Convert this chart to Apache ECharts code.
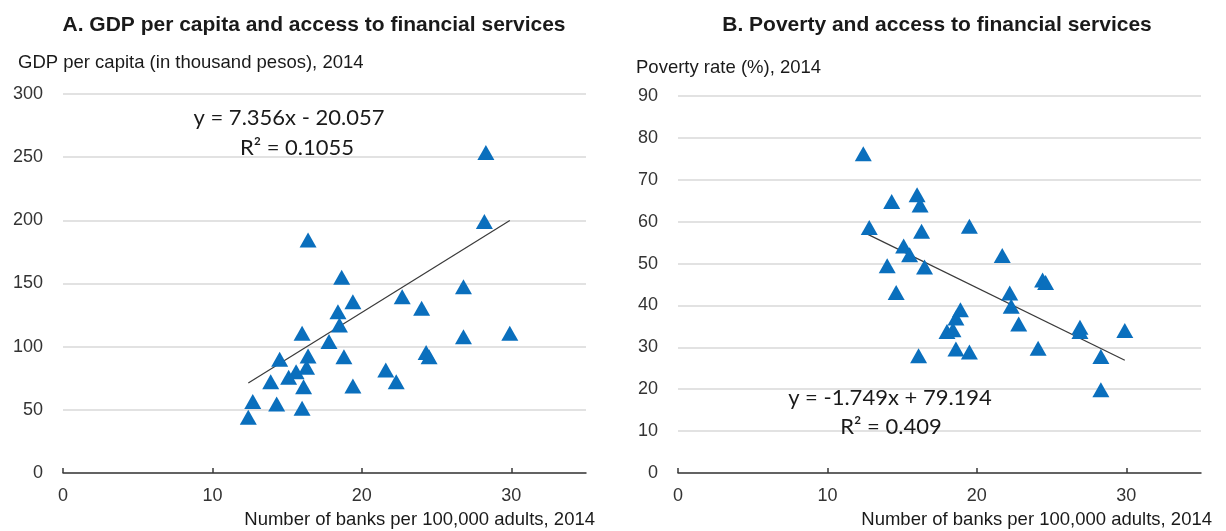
<!DOCTYPE html>
<html>
<head>
<meta charset="utf-8">
<script src="https://cdn.jsdelivr.net/npm/echarts@6/dist/echarts.min.js"></script>
<style>
html,body{margin:0;padding:0;background:#fff;}
#c{width:1226px;height:531px;}
</style>
</head>
<body>
<div id="c"></div>
<script>
// ---- Data ----
const titleA = "A. GDP per capita and access to financial services";
const titleB = "B. Poverty and access to financial services";
const yNameA = "GDP per capita (in thousand pesos), 2014";
const yNameB = "Poverty rate (%), 2014";
const xName = "Number of banks per 100,000 adults, 2014";
const xTicks = [0, 10, 20, 30];

// Panel A: banks per 100,000 adults vs GDP per capita
const banksA = [28.3, 28.2, 16.4, 18.65, 26.8, 19.4, 22.7, 24.0, 18.4, 18.5, 16.0, 17.8, 26.8, 29.9, 14.5, 16.4,
                18.8, 24.3, 24.5, 16.3, 15.6, 15.1, 13.9, 16.1, 21.6, 22.3, 19.4, 12.7, 14.3, 16.0, 12.4];
const gdpA = [253.6, 199.0, 184.5, 154.9, 147.5, 135.6, 139.6, 130.4, 127.7, 117.2, 110.6, 104.0, 107.9, 110.6, 90.0, 92.6,
              92.1, 95.3, 92.1, 83.7, 80.2, 75.8, 72.3, 68.3, 81.6, 72.3, 68.9, 56.5, 54.6, 51.2, 44.1];
const trendA = [7.356, -20.057];      // slope, intercept
const trendRangeA = [12.4, 29.9];
const eqA = ["y = 7.356x - 20.057", "R² = 0.1055"];

// Panel B: banks per 100,000 adults vs poverty rate
const banksB = [12.4, 14.3, 16.0, 16.2, 12.8, 16.3, 19.5, 15.1, 15.5, 16.5, 14.0, 21.7, 14.6, 24.4, 24.6, 22.2,
                22.3, 18.9, 18.6, 18.0, 18.4, 22.8, 26.9, 26.9, 29.9, 18.6, 19.5, 24.1, 16.1, 28.3, 28.3];
const povB = [76.2, 64.8, 66.4, 64.0, 58.6, 57.7, 58.9, 54.2, 52.1, 49.2, 49.5, 51.9, 43.1, 46.1, 45.5, 43.0,
              39.8, 39.0, 37.0, 33.8, 34.2, 35.6, 34.8, 33.8, 34.0, 29.6, 28.9, 29.8, 28.0, 27.8, 19.9];
const trendB = [-1.749, 79.194];
const trendRangeB = [12.4, 29.9];
const eqB = ["y = -1.749x + 79.194", "R² = 0.409"];

// ---- Build ----
const NARROW = "'Liberation Sans Narrow','Arial Narrow','Liberation Sans',Arial,sans-serif";
const EQFONT = "Lato,'Open Sans',sans-serif";
const BLUE = "#0a6fbd";

function pts(xs, ys){ return xs.map((x,i)=>[x, ys[i]]); }
function trend(coef, range){ return range.map(x=>[x, coef[0]*x + coef[1]]); }

function xAxis(gi){
  return {
    gridIndex: gi, type:'value', min:0, max:35, interval:10,
    axisLine:{show:true, onZero:false, lineStyle:{color:'#3a3a3a', width:1.5}},
    axisTick:{show:true, inside:true, length:5, customValues:xTicks, lineStyle:{color:'#3a3a3a', width:1.5}},
    axisLabel:{customValues:xTicks, color:'#333', fontFamily:NARROW, fontSize:18, margin:14},
    splitLine:{show:false}
  };
}
function yAxis(gi, max, interval){
  return {
    gridIndex: gi, type:'value', min:0, max:max, interval:interval,
    axisLine:{show:false}, axisTick:{show:false},
    axisLabel:{color:'#333', fontFamily:NARROW, fontSize:18, margin:20},
    splitLine:{show:true, lineStyle:{color:'#d9d9d9', width:1.5}}
  };
}
function scatter(xi, data){
  return {type:'scatter', xAxisIndex:xi, yAxisIndex:xi, data:data, symbol:'triangle', symbolSize:[17,15],
          itemStyle:{color:BLUE, opacity:1}, z:3};
}
function line(xi, data){
  return {type:'line', xAxisIndex:xi, yAxisIndex:xi, data:data, symbol:'none',
          lineStyle:{color:'#3a3a3a', width:1.2}, z:2, silent:true};
}
function txt(x, y, s, font, size, weight, align){
  return {type:'text', x:x, y:y, z:100, style:{text:s, font:(weight||'normal')+' '+size+'px '+font,
          fill:'#1a1a1a', textAlign:align||'left', textVerticalAlign:'middle'}};
}

const chart = echarts.init(document.getElementById('c'), null, {renderer:'canvas'});
chart.setOption({
  animation:false,
  backgroundColor:'#fff',
  grid:[
    {left:63, top:94, width:523, height:379},
    {left:678, top:96, width:523, height:377}
  ],
  xAxis:[xAxis(0), xAxis(1)],
  yAxis:[yAxis(0, 300, 50), yAxis(1, 90, 10)],
  series:[
    line(0, trend(trendA, trendRangeA)),
    scatter(0, pts(banksA, gdpA)),
    line(1, trend(trendB, trendRangeB)),
    scatter(1, pts(banksB, povB))
  ],
  graphic:[
    txt(314, 25, titleA, NARROW, 21, 'bold', 'center'),
    txt(937, 25, titleB, NARROW, 21, 'bold', 'center'),
    txt(18, 63, yNameA, NARROW, 18.5, 'normal', 'left'),
    txt(636, 68, yNameB, NARROW, 18.5, 'normal', 'left'),
    txt(595, 520, xName, NARROW, 18.5, 'normal', 'right'),
    txt(1212, 520, xName, NARROW, 18.5, 'normal', 'right'),
    txt(289, 118, eqA[0], EQFONT, 22, 'normal', 'center'),
    txt(297, 148, eqA[1], EQFONT, 22, 'normal', 'center'),
    txt(890, 398, eqB[0], EQFONT, 22, 'normal', 'center'),
    txt(891, 427, eqB[1], EQFONT, 22, 'normal', 'center')
  ]
});
</script>
</body>
</html>
